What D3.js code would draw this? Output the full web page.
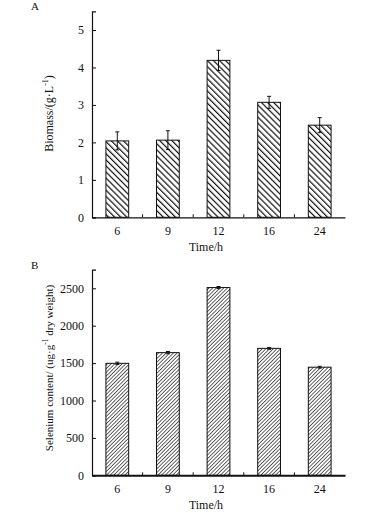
<!DOCTYPE html>
<html>
<head>
<meta charset="utf-8">
<script src="https://cdn.jsdelivr.net/npm/d3@7"></script>
<style>
  body { margin: 0; background: #fff; }
  svg { font-family: "Liberation Serif", "Times New Roman", serif; }
</style>
</head>
<body>
<svg width="376" height="513"></svg>
<script>
const times = ['6', '9', '12', '16', '24'];
const biomass = [2.04, 2.06, 4.19, 3.07, 2.46];
const biomassErr = [0.24, 0.25, 0.27, 0.16, 0.2];
const selenium = [1497, 1640, 2510, 1697, 1445];
const seleniumErr = [15, 15, 14, 12, 12];
const biomassTicks = [0, 1, 2, 3, 4, 5];
const seleniumTicks = [0, 500, 1000, 1500, 2000, 2500];

const svg = d3.select('svg');
const defs = svg.append('defs');
const serif = '"Liberation Serif", "Times New Roman", serif';

// hatch patterns
const pA = defs.append('pattern')
    .attr('id', 'hatchA')
    .attr('patternUnits', 'userSpaceOnUse')
    .attr('width', 4.3).attr('height', 4.3)
    .attr('patternTransform', 'rotate(-45)');
pA.append('rect').attr('width', 4.3).attr('height', 4.3).attr('fill', '#fff');
pA.append('line').attr('x1', 0).attr('y1', 0).attr('x2', 0).attr('y2', 4.3)
    .attr('stroke', '#111').attr('stroke-width', 2.4);

const pB = defs.append('pattern')
    .attr('id', 'hatchB')
    .attr('patternUnits', 'userSpaceOnUse')
    .attr('width', 2.6).attr('height', 2.6)
    .attr('patternTransform', 'rotate(45)');
pB.append('rect').attr('width', 2.6).attr('height', 2.6).attr('fill', '#fff');
pB.append('line').attr('x1', 0).attr('y1', 0).attr('x2', 0).attr('y2', 2.6)
    .attr('stroke', '#111').attr('stroke-width', 1.3);

const drawPanel = opts => {
    const { top, bottom, values, errs, max, ticks, fill, letter, yLabel, yLabelY, yLabelSize, xLineWidth } = opts;
    const left = 92, right = 345;

    const xScale = d3.scaleBand()
        .domain(times)
        .range([left, right])
        .paddingInner(0.55)
        .paddingOuter(0.275);

    const yScale = d3.scaleLinear()
        .domain([0, max])
        .range([bottom, top]);

    const g = svg.append('g');

    // y axis
    const yAxisG = g.append('g')
        .attr('transform', `translate(${left},0)`)
        .call(d3.axisLeft(yScale).tickValues(ticks).tickFormat(d3.format('d')).tickSize(-4).tickPadding(8));
    yAxisG.attr('font-family', serif).attr('font-size', 12);
    yAxisG.select('.domain').attr('stroke', '#111').attr('stroke-width', 1.2);
    yAxisG.selectAll('.tick line').attr('stroke', '#111');
    yAxisG.selectAll('.tick text').attr('fill', '#111');

    // bars
    g.selectAll('rect.bar').data(values)
        .enter().append('rect')
            .attr('class', 'bar')
            .attr('x', (d, i) => xScale(times[i]))
            .attr('width', xScale.bandwidth())
            .attr('y', d => yScale(d))
            .attr('height', d => yScale(0) - yScale(d))
            .attr('fill', fill)
            .attr('stroke', '#111')
            .attr('stroke-width', 1);

    // error bars
    const eg = g.selectAll('g.err').data(values)
        .enter().append('g')
            .attr('class', 'err')
            .attr('stroke', '#111')
            .attr('stroke-width', 1);
    const cx = (d, i) => xScale(times[i]) + xScale.bandwidth() / 2;
    eg.append('line')
        .attr('x1', cx).attr('x2', cx)
        .attr('y1', (d, i) => yScale(d + errs[i]))
        .attr('y2', (d, i) => yScale(d - errs[i]));
    eg.append('line')
        .attr('x1', (d, i) => cx(d, i) - 2).attr('x2', (d, i) => cx(d, i) + 2)
        .attr('y1', (d, i) => yScale(d + errs[i]))
        .attr('y2', (d, i) => yScale(d + errs[i]));
    eg.append('line')
        .attr('x1', (d, i) => cx(d, i) - 2).attr('x2', (d, i) => cx(d, i) + 2)
        .attr('y1', (d, i) => yScale(d - errs[i]))
        .attr('y2', (d, i) => yScale(d - errs[i]));

    // x axis
    const xAxisG = g.append('g')
        .attr('transform', `translate(0,${bottom})`)
        .call(d3.axisBottom(xScale).tickSize(0).tickPadding(9));
    xAxisG.attr('font-family', serif).attr('font-size', 12);
    xAxisG.select('.domain').attr('stroke', '#111').attr('stroke-width', xLineWidth);
    xAxisG.selectAll('.tick text').attr('fill', '#111');

    // small separators between groups
    const step = xScale.step();
    g.selectAll('line.sep').data(times.slice(1))
        .enter().append('line')
            .attr('class', 'sep')
            .attr('x1', d => xScale(d) - step * 0.275)
            .attr('x2', d => xScale(d) - step * 0.275)
            .attr('y1', bottom)
            .attr('y2', bottom - 3)
            .attr('stroke', '#111');

    g.append('text')
        .attr('x', 206)
        .attr('y', bottom + 34)
        .attr('text-anchor', 'middle')
        .attr('font-size', 12)
        .attr('fill', '#111')
        .text('Time/h');

    g.append('text')
        .attr('x', 31)
        .attr('y', top - 1)
        .attr('font-size', 11)
        .attr('fill', '#111')
        .text(letter);

    const yl = g.append('text')
        .attr('transform', `translate(53,${yLabelY}) rotate(-90)`)
        .attr('text-anchor', 'middle')
        .attr('font-size', yLabelSize)
        .attr('fill', '#111');
    yLabel(yl);
};

drawPanel({
    top: 11.3, bottom: 217.3,
    values: biomass, errs: biomassErr, max: 5.5, ticks: biomassTicks,
    fill: 'url(#hatchA)', letter: 'A', xLineWidth: 1.3,
    yLabelY: 113.5, yLabelSize: 12,
    yLabel: t => {
        t.append('tspan').text('Biomass/(g·L');
        t.append('tspan').attr('dy', -5).attr('font-size', 8).text('-1');
        t.append('tspan').attr('dy', 5).text(')');
    }
});

drawPanel({
    top: 269.6, bottom: 475.3,
    values: selenium, errs: seleniumErr, max: 2750, ticks: seleniumTicks,
    fill: 'url(#hatchB)', letter: 'B', xLineWidth: 2,
    yLabelY: 368, yLabelSize: 11,
    yLabel: t => {
        t.append('tspan').text('Selenium content/ (ug·g');
        t.append('tspan').attr('dy', -5).attr('font-size', 7.5).text('-1');
        t.append('tspan').attr('dy', 5).text(' dry weight)');
    }
});
</script>
</body>
</html>
